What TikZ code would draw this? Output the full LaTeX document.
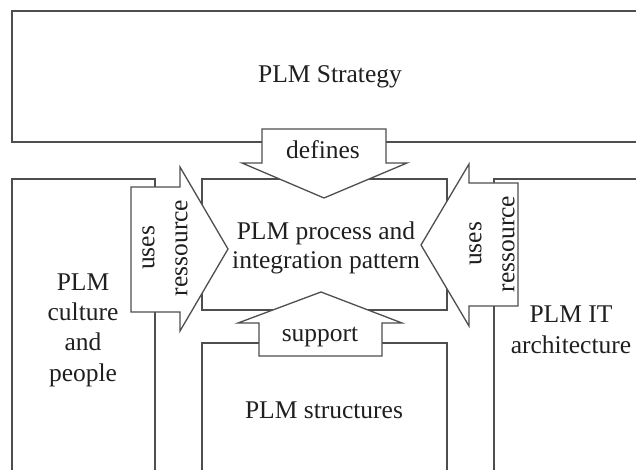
\documentclass[tikz,border=0pt]{standalone}
\usepackage{fontspec}
\setmainfont{Liberation Serif}
\usepackage{tikz}
\definecolor{edgegray}{RGB}{78,78,78}

\begin{document}
\begin{tikzpicture}[x=0.5pt,y=-0.5pt,
	box/.style={draw=edgegray,line width=0.65pt},
	bigarrow/.style={draw=edgegray,fill=white,line width=0.65pt,line join=miter},
	lbl/.style={font=\fontsize{12.75}{14.5}\selectfont,align=center,text=black!88,inner sep=0pt},
	vlbl/.style={lbl,font=\fontsize{12.75}{16.5}\selectfont,rotate=90}]
	\useasboundingbox (0,0) rectangle (636,470);

	% Boxes, open where they leave the page.
	\draw[box] (636,11) -- (12,11) -- (12,142) -- (636,142); % Strategy.
	\draw[box] (12,470) -- (12,179) -- (155,179) -- (155,470); % Culture.
	\draw[box] (494,470) -- (494,179) -- (636,179); % IT architecture.
	\draw[box] (202,179) rectangle (447,310); % Process.
	\draw[box] (202,470) -- (202,343) -- (447,343) -- (447,470); % Structures.

	% Block arrows.
	\draw[bigarrow] (262,129) -- (386,129) -- (386,163) -- (407,163) -- (324,198) -- (242,163) -- (262,163) -- cycle;
	\draw[bigarrow] (321,292) -- (402,323) -- (382,323) -- (382,356) -- (259,356) -- (259,323) -- (238,323) -- cycle;
	\draw[bigarrow] (131,187) -- (180,187) -- (180,167) -- (228,249) -- (180,331) -- (180,312) -- (131,312) -- cycle;
	\draw[bigarrow] (518,183) -- (469,183) -- (469,164) -- (421,245) -- (469,326) -- (469,306) -- (518,306) -- cycle;

	% Labels.
	\node[lbl] (strategy) at (330,77) {PLM Strategy};
	\node[lbl] (defines) at (323,150) {defines};
	\node[lbl] (process) at (326,248) {PLM process and\\integration pattern};
	\node[lbl] (support) at (320,337) {support};
	\node[lbl] (structures) at (324,410) {PLM structures};
	\node[lbl,font=\fontsize{12.75}{15.2}\selectfont] (culture) at (83,330) {PLM\\culture\\and\\people};
	\node[lbl,font=\fontsize{12.75}{15.5}\selectfont] (itarch) at (571,330) {PLM IT\\architecture};
	\node[vlbl] (usesleft) at (165,248) {uses\\ressource};
	\node[vlbl] (usesright) at (492,244) {uses\\ressource};
\end{tikzpicture}
\end{document}
